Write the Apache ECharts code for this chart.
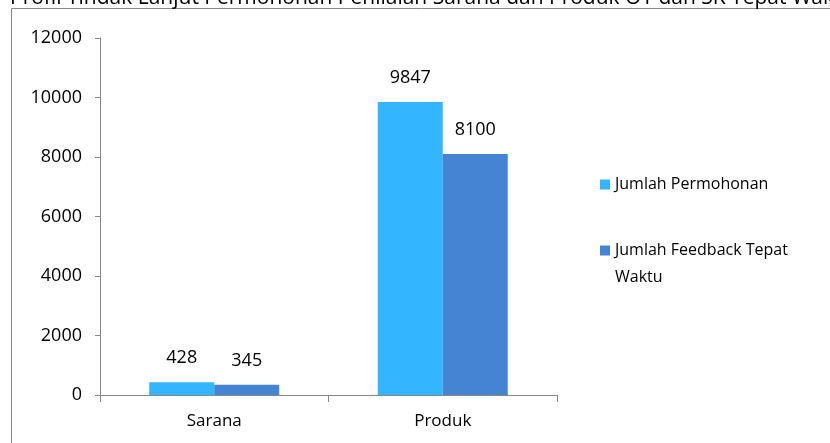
<!DOCTYPE html>
<html>
<head>
<meta charset="utf-8">
<script src="https://cdn.jsdelivr.net/npm/echarts@6/dist/echarts.min.js"></script>
<style>
  html, body { margin: 0; padding: 0; background: #fff; }
  #chartDom { width: 830px; height: 443px; }
</style>
</head>
<body>
<div id="chartDom"></div>
<script>
// data
const categories = ['Sarana', 'Produk'];
const permohonan = [428, 9847];
const feedback = [345, 8100];
const seriesNames = ['Jumlah Permohonan', 'Jumlah Feedback Tepat Waktu'];
const titleText = 'Profil Tindak Lanjut Permohonan Penilaian Sarana dan Produk OT dan SK Tepat Waktu';

const fontName = 'Open Sans';
let chart = echarts.init(document.getElementById('chartDom'));

// legend squares drawn inside a 10x37 box: centred for the one-line name,
// at the top for the wrapped name so it sits level with the first line
const iconMid = 'path://M0,0L0,0M0,13.5H10V23.5H0ZM0,37L0,37';
const iconTop = 'path://M0,0H10V10H0ZM0,37L0,37';

chart.setOption({
  animation: false,
  textStyle: { fontFamily: fontName },
  title: {
    text: titleText,
    left: 5,
    top: -17,
    textStyle: { fontSize: 21, fontWeight: 'normal', color: '#000', fontFamily: fontName }
  },
  // outer frame
  graphic: [{
    type: 'rect',
    shape: { x: 11.5, y: 8.5, width: 830, height: 450 },
    style: { fill: 'none', stroke: '#888', lineWidth: 1 },
    z: -1
  }],
  grid: { left: 100, right: 273, top: 38, bottom: 48 },
  legend: {
    orient: 'vertical',
    left: 595,
    top: 161,
    itemWidth: 10,
    itemHeight: 37,
    itemGap: 34,
    textStyle: { fontSize: 16, color: '#000', width: 205, overflow: 'break', lineHeight: 27, fontFamily: fontName },
    data: [
      { name: seriesNames[0], icon: iconMid },
      { name: seriesNames[1], icon: iconTop }
    ]
  },
  xAxis: {
    type: 'category',
    data: categories,
    axisLine: { lineStyle: { color: '#888' } },
    axisTick: { show: true, length: 7, lineStyle: { color: '#888' } },
    axisLabel: { fontSize: 17, color: '#000', margin: 18 }
  },
  yAxis: {
    type: 'value',
    min: 0,
    max: 12000,
    interval: 2000,
    axisLine: { show: true, lineStyle: { color: '#888' } },
    axisTick: { show: true, length: 5, lineStyle: { color: '#888' } },
    splitLine: { show: false },
    axisLabel: { fontSize: 18, color: '#000', margin: 18, formatter: (v) => String(v) }
  },
  series: [
    {
      name: seriesNames[0],
      type: 'bar',
      data: permohonan,
      barWidth: 65,
      barGap: '0%',
      itemStyle: { color: '#33B5FF' },
      label: { show: true, position: 'top', distance: 15, fontSize: 18, color: '#000' }
    },
    {
      name: seriesNames[1],
      type: 'bar',
      data: feedback,
      barWidth: 65,
      barGap: '0%',
      itemStyle: { color: '#4583D3' },
      label: { show: true, position: 'top', distance: 15, fontSize: 18, color: '#000' }
    }
  ]
});
</script>
</body>
</html>
